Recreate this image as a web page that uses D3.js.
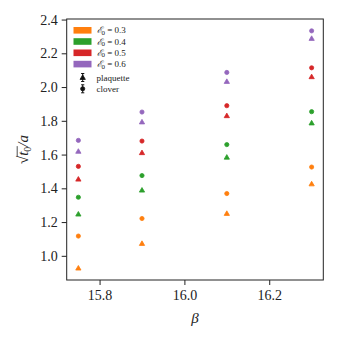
<!DOCTYPE html>
<html><head><meta charset="utf-8">
<script src="https://cdn.jsdelivr.net/npm/d3@7"></script>
<style>body{margin:0;background:#fff}svg{display:block}</style>
</head><body>
<svg id="c" width="340" height="340"></svg>
<script>
const betas = [15.75, 15.9, 16.1, 16.3];
const epsLabels = ["0.3", "0.4", "0.5", "0.6"];
const colors = ["#ff7f0e", "#2ca02c", "#d62728", "#9467bd"];
// plaquette (triangles)
const plaq03 = [0.927, 1.073, 1.251, 1.426];
const plaq04 = [1.247, 1.389, 1.584, 1.787];
const plaq05 = [1.454, 1.611, 1.830, 2.061];
const plaq06 = [1.619, 1.793, 2.033, 2.288];
// clover (circles)
const clov03 = [1.117, 1.221, 1.369, 1.526];
const clov04 = [1.347, 1.4755, 1.659, 1.854];
const clov05 = [1.530, 1.680, 1.8895, 2.114];
const clov06 = [1.684, 1.852, 2.0865, 2.333];
const xTicks = [15.8, 16.0, 16.2];
const yTicks = [1.0, 1.2, 1.4, 1.6, 1.8, 2.0, 2.2, 2.4];

const plaq = [plaq03, plaq04, plaq05, plaq06];
const clov = [clov03, clov04, clov05, clov06];

const L = 66.7, R = 323.3, T = 19, B = 280;
const serif = "'Liberation Serif', 'DejaVu Serif', serif";
const svg = d3.select("#c");

const xmin = d3.min(betas), xmax = d3.max(betas);
const xpad = (xmax - xmin) * 0.05;
const x = d3.scaleLinear().domain([xmin - xpad, xmax + xpad]).range([L, R]);
const allY = plaq.flat().concat(clov.flat());
const ymin = d3.min(allY), ymax = d3.max(allY);
const ypad = (ymax - ymin) * 0.05;
const y = d3.scaleLinear().domain([ymin - ypad, ymax + ypad]).range([B, T]);

// axes
const xAxis = svg.append("g").attr("transform", `translate(0,${B})`)
  .call(d3.axisBottom(x).tickValues(xTicks).tickFormat(d3.format(".1f")).tickSize(5).tickPadding(5));
const yAxis = svg.append("g").attr("transform", `translate(${L},0)`)
  .call(d3.axisLeft(y).tickValues(yTicks).tickFormat(d3.format(".1f")).tickSize(5).tickPadding(4));
[xAxis, yAxis].forEach(a => {
  a.select(".domain").remove();
  a.selectAll(".tick line").attr("stroke", "#222").attr("stroke-width", 1);
  a.selectAll(".tick text").attr("font-family", serif).attr("font-size", 14).attr("fill", "#222");
});
svg.append("rect").attr("x", L).attr("y", T).attr("width", R - L).attr("height", B - T)
  .attr("fill", "none").attr("stroke", "#222").attr("stroke-width", 1);

const tri = d3.symbol().type(d3.symbolTriangle).size(12);
const gPts = svg.append("g");
plaq.forEach((s, i) => {
  gPts.selectAll(null).data(s).enter().append("path")
    .attr("d", tri)
    .attr("transform", (d, j) => `translate(${x(betas[j])},${y(d) + 0.4})`)
    .attr("fill", colors[i]).attr("stroke", colors[i]).attr("stroke-width", 0.8);
});
clov.forEach((s, i) => {
  gPts.selectAll(null).data(s).enter().append("circle")
    .attr("cx", (d, j) => x(betas[j])).attr("cy", d => y(d)).attr("r", 2.1)
    .attr("fill", colors[i]).attr("stroke", colors[i]).attr("stroke-width", 0.8);
});

// legend
const lg = svg.append("g");
const rowY = [30.3, 41.5, 52.8, 64.1];
epsLabels.forEach((e, i) => {
  lg.append("rect").attr("x", 73.5).attr("y", rowY[i] - 3.3).attr("width", 18).attr("height", 6.6).attr("fill", colors[i]);
  const t = lg.append("text").attr("x", 96.5).attr("y", rowY[i] + 3).attr("font-family", serif)
    .attr("font-size", 9).attr("fill", "#222");
  t.append("tspan").attr("font-style", "italic").text("ℰ");
  t.append("tspan").attr("font-size", 7).attr("dy", 1.5).text("0");
  t.append("tspan").attr("dy", -1.5).text(" = " + e);
});
const hx = 82.7;
[["plaquette", 77.5, "tri"], ["clover", 88.8, "circ"]].forEach(([lab, yy, m]) => {
  lg.append("line").attr("x1", hx).attr("x2", hx).attr("y1", yy - 4).attr("y2", yy + 4).attr("stroke", "#111").attr("stroke-width", 1);
  lg.append("line").attr("x1", hx - 1.6).attr("x2", hx + 1.6).attr("y1", yy - 4).attr("y2", yy - 4).attr("stroke", "#111").attr("stroke-width", 1);
  lg.append("line").attr("x1", hx - 1.6).attr("x2", hx + 1.6).attr("y1", yy + 4).attr("y2", yy + 4).attr("stroke", "#111").attr("stroke-width", 1);
  if (m === "tri") lg.append("path").attr("d", tri).attr("transform", `translate(${hx},${yy + 0.4})`).attr("fill", "#111").attr("stroke", "#111").attr("stroke-width", 0.8);
  else lg.append("circle").attr("cx", hx).attr("cy", yy).attr("r", 2.1).attr("fill", "#111").attr("stroke", "#111").attr("stroke-width", 0.8);
  lg.append("text").attr("x", 96.5).attr("y", yy + 3).attr("font-family", serif).attr("font-size", 9).attr("fill", "#222").text(lab);
});

// x label
svg.append("text").attr("x", (L + R) / 2).attr("y", 323).attr("text-anchor", "middle")
  .attr("font-family", serif).attr("font-style", "italic").attr("font-size", 15).attr("fill", "#222").text("β");

// y label: sqrt(t0)/a
const yl = svg.append("g").attr("transform", `translate(28,${(T + B) / 2}) rotate(-90)`);
const ylt = yl.append("text").attr("x", 0).attr("y", 0).attr("text-anchor", "middle")
  .attr("font-family", serif).attr("font-size", 15).attr("fill", "#222");
ylt.append("tspan").text("√");
const tsp = ylt.append("tspan").attr("font-style", "italic").text("t");
ylt.append("tspan").attr("font-size", 10).attr("dy", 3).text("0");
ylt.append("tspan").attr("dy", -3).attr("font-style", "italic").text("/a");
// overline over t0
const bb = ylt.node().getBBox();
const sq = ylt.node().getSubStringLength(0, 1);
const tw = ylt.node().getSubStringLength(1, 2);
yl.append("line").attr("x1", bb.x + sq - 0.5).attr("x2", bb.x + sq + tw + 0.5)
  .attr("y1", bb.y + 2.2).attr("y2", bb.y + 2.2).attr("stroke", "#222").attr("stroke-width", 0.8);
</script>
</body></html>
